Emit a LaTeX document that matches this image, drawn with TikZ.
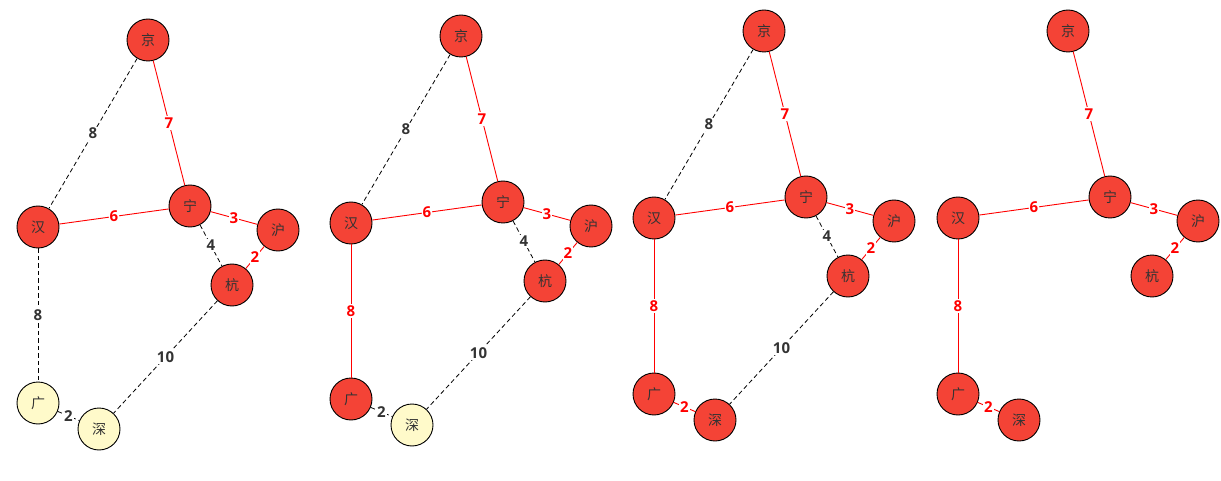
\documentclass[tikz,border=0pt]{standalone}
\usepackage{fontspec}
\setmainfont{Open Sans}
\newfontfamily\cjk{Noto Sans CJK SC}
\definecolor{nodered}{RGB}{244,67,54}
\definecolor{nodeyel}{RGB}{255,250,202}
\definecolor{txtgray}{RGB}{51,51,51}
\definecolor{edgered}{RGB}{255,0,0}
\tikzset{
  city/.style={circle, draw=black, line width=0.9pt, minimum size=42pt, inner sep=0pt,
    font=\cjk\fontsize{14}{14}\selectfont, text=txtgray},
  sel/.style={draw=edgered, line width=0.9pt},
  uns/.style={draw=black, line width=0.8pt, dash pattern=on 4.5pt off 3pt},
  sellab/.style={fill=white, inner sep=1.2pt, text=edgered, font=\bfseries\fontsize{15}{15}\selectfont},
  unslab/.style={fill=white, inner sep=1.2pt, text=txtgray, font=\bfseries\fontsize{15}{15}\selectfont},
}
\newcommand\mknodes[5]{%
  \begin{scope}[shift={(#2,#3)}]
    \node[city, fill=nodered] (#1H) at (0,0) {汉};
    \node[city, fill=nodered] (#1J) at (110,-187) {京};
    \node[city, fill=nodered] (#1N) at (152,-21) {宁};
    \node[city, fill=nodered] (#1S) at (240,3) {沪};
    \node[city, fill=nodered] (#1K) at (194,58) {杭};
    \node[city, fill=#4] (#1G) at (0,176) {广};
    \node[city, fill=#5] (#1Z) at (61,202) {深};
  \end{scope}}
\newcommand\ed[4]{\draw[#1] (#2) -- node[#1lab]{#4} (#3);}
\begin{document}
\begin{tikzpicture}[x=1pt,y=-1pt]
\useasboundingbox (0,0) rectangle (1221,481);
% panel 1
\mknodes{a}{38}{227}{nodeyel}{nodeyel}
\ed{uns}{aJ}{aH}{8}
\ed{sel}{aJ}{aN}{7}
\ed{sel}{aH}{aN}{6}
\ed{sel}{aN}{aS}{3}
\ed{uns}{aN}{aK}{4}
\ed{sel}{aS}{aK}{2}
\ed{uns}{aH}{aG}{8}
\ed{uns}{aK}{aZ}{10}
\ed{uns}{aG}{aZ}{2}
% panel 2
\mknodes{b}{351}{223}{nodered}{nodeyel}
\ed{uns}{bJ}{bH}{8}
\ed{sel}{bJ}{bN}{7}
\ed{sel}{bH}{bN}{6}
\ed{sel}{bN}{bS}{3}
\ed{uns}{bN}{bK}{4}
\ed{sel}{bS}{bK}{2}
\ed{sel}{bH}{bG}{8}
\ed{uns}{bK}{bZ}{10}
\ed{uns}{bG}{bZ}{2}
% panel 3
\mknodes{c}{654}{218}{nodered}{nodered}
\ed{uns}{cJ}{cH}{8}
\ed{sel}{cJ}{cN}{7}
\ed{sel}{cH}{cN}{6}
\ed{sel}{cN}{cS}{3}
\ed{uns}{cN}{cK}{4}
\ed{sel}{cS}{cK}{2}
\ed{sel}{cH}{cG}{8}
\ed{uns}{cK}{cZ}{10}
\ed{sel}{cG}{cZ}{2}
% panel 4
\mknodes{d}{958}{218}{nodered}{nodered}
\ed{sel}{dJ}{dN}{7}
\ed{sel}{dH}{dN}{6}
\ed{sel}{dN}{dS}{3}
\ed{sel}{dS}{dK}{2}
\ed{sel}{dH}{dG}{8}
\ed{sel}{dG}{dZ}{2}
\end{tikzpicture}
\end{document}
